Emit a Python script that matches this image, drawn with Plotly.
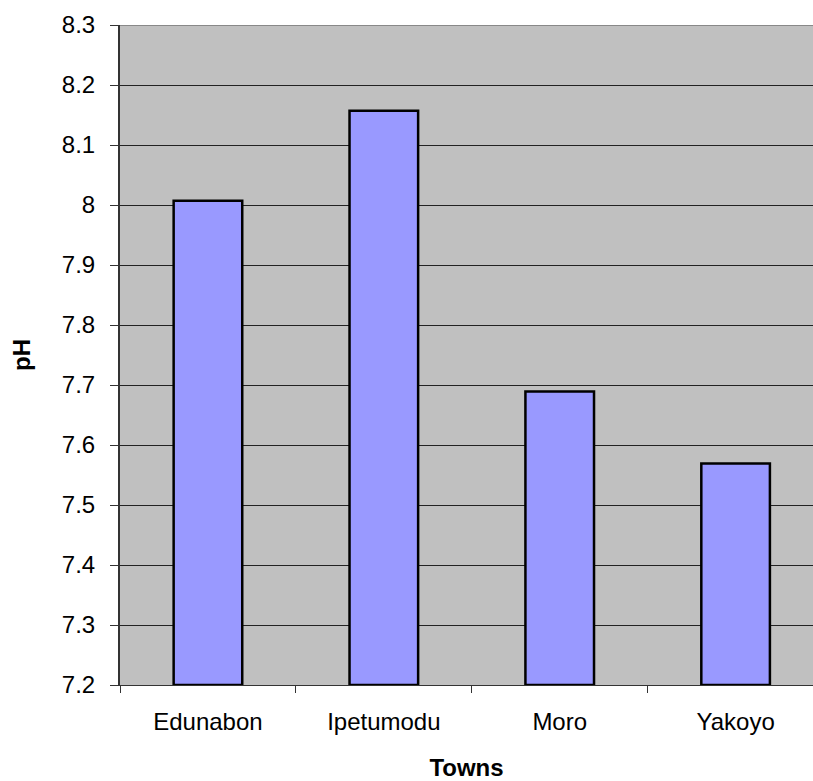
import plotly.graph_objects as go

towns = ["Edunabon", "Ipetumodu", "Moro", "Yakoyo"]
ph_values = [8.007, 8.157, 7.689, 7.569]
y_ticks = [7.2, 7.3, 7.4, 7.5, 7.6, 7.7, 7.8, 7.9, 8.0, 8.1, 8.2, 8.3]
y_tick_labels = ["7.2", "7.3", "7.4", "7.5", "7.6", "7.7", "7.8", "7.9", "8", "8.1", "8.2", "8.3"]

fig = go.Figure()
fig.add_trace(go.Bar(
    x=towns, y=[v - 7.2 for v in ph_values], base=7.2,
    width=0.39,
    marker=dict(color="#9999FF", line=dict(color="black", width=2.5)),
    hoverinfo="skip",
))

font = "Liberation Sans, Arial, sans-serif"
fig.update_layout(
    width=813, height=781,
    margin=dict(l=120, r=0, t=25, b=96),
    paper_bgcolor="white",
    plot_bgcolor="#C0C0C0",
    showlegend=False,
    font=dict(family=font, color="black"),
)
fig.update_xaxes(
    range=[-0.5, 3.44],
    tickson="boundaries",
    ticks="outside", ticklen=7, tickcolor="#333", tickwidth=1,
    showline=True, linecolor="#333", linewidth=1,
    showgrid=False,
    tickfont=dict(size=24, family=font),
    ticklabelstandoff=15,
    title=dict(text="<b>Towns</b>", font=dict(size=24, family=font), standoff=26),
)
fig.update_yaxes(
    range=[7.2, 8.3],
    tickvals=y_ticks, ticktext=y_tick_labels,
    ticks="outside", ticklen=8, tickcolor="#333", tickwidth=1,
    showline=True, linecolor="#333", linewidth=2,
    showgrid=True, gridcolor="#222", gridwidth=1,
    zeroline=False,
    tickfont=dict(size=24, family=font),
    ticklabelstandoff=10,
    title=dict(text="<b>pH</b>", font=dict(size=24, family=font), standoff=24),
)
fig.add_shape(type="line", xref="x domain", yref="y", x0=0, x1=1, y0=8.3, y1=8.3,
              line=dict(color="#888", width=2))
fig.write_html("out.html")
